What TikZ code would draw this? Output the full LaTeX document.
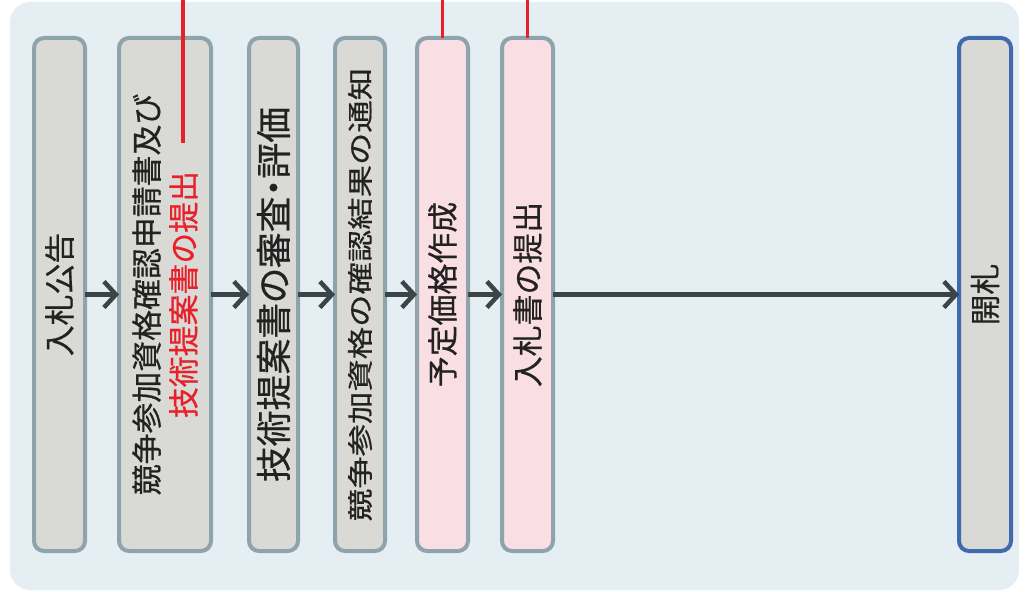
\documentclass[tikz,border=0pt]{standalone}
\usepackage{fontspec}
\newfontfamily\jp[FakeBold=0.6]{Noto Sans CJK JP}
\usetikzlibrary{arrows.meta}
\definecolor{bgblue}{HTML}{E5EEF2}
\definecolor{boxgray}{HTML}{D9D9D5}
\definecolor{boxpink}{HTML}{F9DEE4}
\definecolor{boxedge}{HTML}{8EA3AB}
\definecolor{blueedge}{HTML}{3F6AAD}
\definecolor{arrowgray}{HTML}{3B4447}
\definecolor{redline}{HTML}{E8202A}
\definecolor{txt}{HTML}{222222}
\tikzset{
  stage/.style={draw=boxedge, line width=4bp, fill=boxgray, rounded corners=10bp,
    minimum height=513bp, inner sep=0pt, outer sep=0pt},
  pinkstage/.style={stage, fill=boxpink},
  bluestage/.style={stage, draw=blueedge},
  lbl/.style={rotate=90, font=\jp\fontsize{31}{37}\selectfont, text=txt, align=center, inner sep=0pt},
  arr/.style={draw=arrowgray, line width=4.5bp, -{Straight Barb[length=12bp,width=26bp]}},
  rline/.style={draw=redline, line width=3.5bp}
}
\begin{document}
\begin{tikzpicture}[x=1bp,y=-1bp]
\useasboundingbox (0,0) rectangle (1026,592);
\fill[white] (0,0) rectangle (1026,592);
\fill[bgblue, rounded corners=20bp] (10,2) rectangle (1019,590);

\node[stage, minimum width=51bp] (b1) at (59.5,294.5) {};
\node[stage, minimum width=92bp] (b2) at (165,294.5) {};
\node[stage, minimum width=49bp] (b3) at (273.5,294.5) {};
\node[stage, minimum width=50bp] (b4) at (360,294.5) {};
\node[pinkstage, minimum width=51bp] (b5) at (442.5,294.5) {};
\node[pinkstage, minimum width=51bp] (b6) at (527.5,294.5) {};
\node[bluestage, minimum width=52bp] (b7) at (985,294.5) {};

\node[lbl] (t1) at (b1.center) {入札公告};
\node[lbl] (t2) at (b2.center) {競争参加資格確認申請書及び\\\textcolor{redline}{技術提案書の提出}};
\node[lbl, font=\jp\fontsize{36}{40}\selectfont\addfontfeature{RawFeature=+palt}] (t3) at (b3.center) {技術提案書の審査・評価};
\node[lbl, font=\jp\fontsize{32.5}{37}\selectfont] (t4) at (b4.center) {\scalebox{1}[0.8]{競争参加資格の確認結果の通知}};
\node[lbl] (t5) at (b5.center) {予定価格作成};
\node[lbl] (t6) at (b6.center) {入札書の提出};
\node[lbl] (t7) at (b7.center) {開札};

\draw[arr] (b1) -- (b2);
\draw[arr] (b2) -- (b3);
\draw[arr] (b3) -- (b4);
\draw[arr] (b4) -- (b5);
\draw[arr] (b5) -- (b6);
\draw[arr] (b6) -- (b7);

\coordinate (r1a) at (183,0);
\coordinate (r1b) at (183,143);
\draw[rline] (r1a) -- (r1b);
\coordinate (r2a) at (b5.north |- 0,0);
\draw[rline] (r2a) -- (b5.north);
\coordinate (r3a) at (b6.north |- 0,0);
\draw[rline] (r3a) -- (b6.north);
\end{tikzpicture}
\end{document}
